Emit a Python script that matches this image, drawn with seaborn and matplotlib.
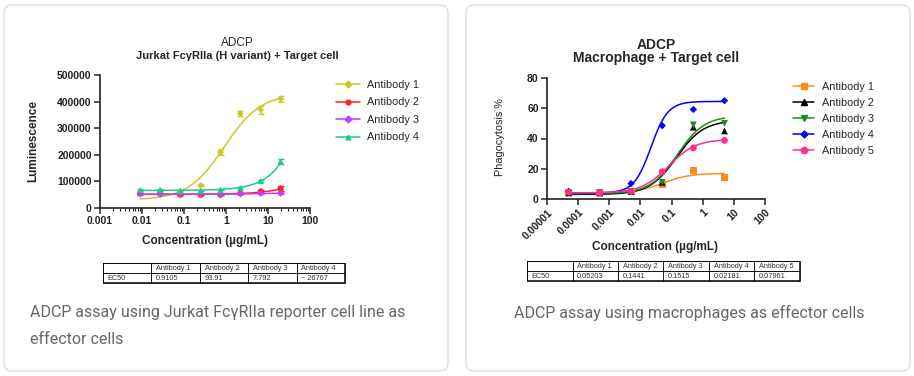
import numpy as np
import pandas as pd
import seaborn as sns
import matplotlib.pyplot as plt
from matplotlib.patches import FancyBboxPatch, Rectangle
from matplotlib.lines import Line2D
from matplotlib.ticker import LogLocator, NullFormatter

# ---- left panel: Jurkat FcgRIIa reporter ----
jurkat_names = ["Antibody 1", "Antibody 2", "Antibody 3", "Antibody 4"]
jurkat_conc = [0.0091, 0.027, 0.082, 0.25, 0.74, 2.2, 6.7, 20]
jurkat_lum = {
    "Antibody 1": [55000, 50000, 60000, 85000, 210000, 355000, 370000, 410000],
    "Antibody 2": [55000, 55000, 50000, 50000, 50000, 55000, 62000, 73000],
    "Antibody 3": [52000, 52000, 52000, 52000, 52000, 53000, 55000, 55000],
    "Antibody 4": [68000, 68000, 65000, 65000, 68000, 75000, 102000, 175000],
}
jurkat_err = {
    "Antibody 1": [3000, 2000, 3000, 4000, 12000, 8000, 15000, 12000],
    "Antibody 2": [2000, 2000, 2000, 2000, 2000, 2000, 4000, 8000],
    "Antibody 3": [2000, 2000, 2000, 2000, 2000, 2000, 3000, 4000],
    "Antibody 4": [3000, 3000, 2000, 2000, 2000, 3000, 4000, 10000],
}
# 4PL fit: bottom, top, EC50, hill
jurkat_fit = {
    "Antibody 1": [30000, 430000, 0.9105, 1.0],
    "Antibody 2": [52000, 166000, 93.91, 1.0],
    "Antibody 3": [51000, 58000, 7.792, 1.0],
    "Antibody 4": [66000, 1.4e8, 26767, 1.0],
}
jurkat_colors = ["#c9c92a", "#ff2020", "#c040ff", "#20c890"]
jurkat_markers = ["D", "o", "D", "^"]
jurkat_sizes = [12, 20, 12, 20]
jurkat_ec50 = ["0.9105", "93.91", "7.792", "~ 26767"]

# ---- right panel: macrophage ----
macro_names = ["Antibody 1", "Antibody 2", "Antibody 3", "Antibody 4", "Antibody 5"]
macro_conc = [0.00005, 0.0005, 0.005, 0.05, 0.5, 5]
macro_phago = {
    "Antibody 1": [4.5, 4.5, 5.0, 9.5, 19.0, 14.0],
    "Antibody 2": [4.0, 4.0, 5.0, 11.0, 47.5, 45.0],
    "Antibody 3": [4.0, 4.0, 5.0, 11.0, 49.0, 50.0],
    "Antibody 4": [5.0, 4.0, 10.2, 48.5, 59.2, 65.0],
    "Antibody 5": [4.5, 4.0, 5.0, 18.0, 33.8, 38.7],
}
macro_fit = {
    "Antibody 1": [4.0, 17.0, 0.05203, 1.0],
    "Antibody 2": [3.0, 52.0, 0.1441, 1.0],
    "Antibody 3": [3.5, 55.0, 0.1515, 1.0],
    "Antibody 4": [4.0, 64.5, 0.02181, 1.6],
    "Antibody 5": [4.0, 39.5, 0.07961, 1.0],
}
macro_colors = ["#ff8c1a", "#000000", "#1e8c1e", "#0000ff", "#ff2d8c"]
macro_markers = ["s", "^", "v", "D", "o"]
macro_sizes = [26, 24, 24, 14, 24]
macro_ec50 = ["0.05203", "0.1441", "0.1515", "0.02181", "0.07961"]


def fourpl(x, p):
    b, t, ec, h = p
    return b + (t - b) / (1 + (ec / x) ** h)


sns.set_style("ticks")
plt.rcParams["font.family"] = ["Liberation Sans", "DejaVu Sans"]

W, H = 914, 376
fig = plt.figure(figsize=(W / 100, H / 100), dpi=100)


def fx(px):
    return px / W


def fy(py):
    return 1 - py / H


# cards
for x0, x1 in [(4, 448), (466, 910)]:
    fig.patches.append(FancyBboxPatch((x0, 5), x1 - x0, 366, boxstyle="round,pad=0,rounding_size=8",
                                      transform=None, fc="white", ec="#dedede", lw=1, zorder=-5))


def style_axis(ax):
    ax.set_facecolor("none")
    for s in ["top", "right"]:
        ax.spines[s].set_visible(False)
    for s in ["left", "bottom"]:
        ax.spines[s].set_linewidth(1.2)
        ax.spines[s].set_color("#222222")
    ax.tick_params(which="major", length=4, width=1.1, labelsize=7.5, pad=2)
    ax.tick_params(which="minor", length=2.2, width=0.8)
    for lab in ax.get_xticklabels() + ax.get_yticklabels():
        lab.set_fontweight("bold")
        lab.set_color("#222222")


def draw_table(rect, names, values):
    tax = fig.add_axes(rect)
    tax.axis("off")
    cells = [[""] + names, ["EC50"] + values]
    n = len(names)
    widths = [1.0 / (n + 1)] * (n + 1)
    tb = tax.table(cellText=cells, cellLoc="left", bbox=[0, 0, 1, 1], colWidths=widths)
    tb.auto_set_font_size(False)
    tb.set_fontsize(5.3)
    for (r, c), cell in tb.get_celld().items():
        cell.set_linewidth(0.6)
        cell.get_text().set_color("#333333")
        if c == 0:
            cell._loc = "right"
    tax.add_patch(Rectangle((0, 0), 1, 1, transform=tax.transAxes, fill=False, lw=1.1, ec="black"))


# ---------- left chart ----------
ax1 = fig.add_axes([fx(100), fy(208), fx(210), 133 / H])
xs = np.logspace(np.log10(0.009), np.log10(20), 200)
rows = []
for name in jurkat_names:
    for x in xs:
        rows.append({"conc": x, "val": fourpl(x, jurkat_fit[name]), "ab": name})
curve1 = pd.DataFrame(rows)
pts1 = pd.DataFrame([{"conc": c, "val": v, "ab": n}
                     for n in jurkat_names for c, v in zip(jurkat_conc, jurkat_lum[n])])
pal1 = dict(zip(jurkat_names, jurkat_colors))
sns.lineplot(data=curve1, x="conc", y="val", hue="ab", palette=pal1, lw=1.1, legend=False, ax=ax1)
for n, c, m in zip(jurkat_names, jurkat_colors, jurkat_markers):
    ax1.errorbar(jurkat_conc, jurkat_lum[n], yerr=jurkat_err[n], fmt="none", ecolor=c,
                 elinewidth=0.9, capsize=2)
sns.scatterplot(data=pts1, x="conc", y="val", hue="ab", style="ab", size="ab", palette=pal1,
                markers=dict(zip(jurkat_names, jurkat_markers)),
                sizes=dict(zip(jurkat_names, jurkat_sizes)), edgecolor="none",
                legend=False, ax=ax1, zorder=5)
ax1.set_xscale("log")
ax1.set_xlim(0.001, 100)
ax1.set_ylim(0, 500000)
ax1.set_xticks([0.001, 0.01, 0.1, 1, 10, 100])
ax1.set_xticklabels(["0.001", "0.01", "0.1", "1", "10", "100"])
ax1.xaxis.set_minor_locator(LogLocator(base=10, subs=np.arange(2, 10)))
ax1.xaxis.set_minor_formatter(NullFormatter())
ax1.set_yticks([0, 100000, 200000, 300000, 400000, 500000])
ax1.set_yticklabels(["0", "100000", "200000", "300000", "400000", "500000"])
ax1.set_xlabel("")
ax1.set_ylabel("")
style_axis(ax1)

fig.text(fx(237), fy(43), "ADCP", ha="center", va="center", fontsize=8.5)
fig.text(fx(237), fy(56), "Jurkat FcγRIIa (H variant) + Target cell", ha="center", va="center",
         fontsize=8, fontweight="bold")
fig.text(fx(33), fy(141), "Luminescence", rotation=90, ha="center", va="center",
         fontsize=8.5, fontweight="bold")
fig.text(fx(205), fy(241), "Concentration (µg/mL)", ha="center", va="center",
         fontsize=8.5, fontweight="bold")

h1 = [Line2D([], [], color=c, marker=m, ms=3.5, lw=1.1) for c, m in zip(jurkat_colors, jurkat_markers)]
fig.legend(h1, jurkat_names, loc="upper left", bbox_to_anchor=(fx(326), fy(70)), frameon=False,
           fontsize=7.8, handlelength=2.2, labelspacing=0.7, handletextpad=0.7)

draw_table([fx(103), fy(283), fx(242), 20 / H], jurkat_names, jurkat_ec50)

# ---------- right chart ----------
ax2 = fig.add_axes([fx(547), fy(199), fx(218), 121 / H])
xs2 = np.logspace(np.log10(0.00005), np.log10(5), 200)
rows = []
for name in macro_names:
    for x in xs2:
        rows.append({"conc": x, "val": fourpl(x, macro_fit[name]), "ab": name})
curve2 = pd.DataFrame(rows)
pts2 = pd.DataFrame([{"conc": c, "val": v, "ab": n}
                     for n in macro_names for c, v in zip(macro_conc, macro_phago[n])])
pal2 = dict(zip(macro_names, macro_colors))
sns.lineplot(data=curve2, x="conc", y="val", hue="ab", palette=pal2, lw=1.1, legend=False, ax=ax2)
sns.scatterplot(data=pts2, x="conc", y="val", hue="ab", style="ab", size="ab", palette=pal2,
                markers=dict(zip(macro_names, macro_markers)),
                sizes=dict(zip(macro_names, macro_sizes)), edgecolor="none",
                legend=False, ax=ax2, zorder=5)
ax2.set_xscale("log")
ax2.set_xlim(0.00001, 100)
ax2.set_ylim(0, 80)
ax2.set_xticks([0.00001, 0.0001, 0.001, 0.01, 0.1, 1, 10, 100])
ax2.set_xticklabels(["0.00001", "0.0001", "0.001", "0.01", "0.1", "1", "10", "100"],
                    rotation=45, ha="right", rotation_mode="anchor")
ax2.xaxis.set_minor_locator(LogLocator(base=10, subs=np.arange(2, 10)))
ax2.xaxis.set_minor_formatter(NullFormatter())
ax2.set_yticks([0, 20, 40, 60, 80])
ax2.set_xlabel("")
ax2.set_ylabel("")
style_axis(ax2)

fig.text(fx(656), fy(45), "ADCP", ha="center", va="center", fontsize=10, fontweight="bold")
fig.text(fx(656), fy(58), "Macrophage + Target cell", ha="center", va="center",
         fontsize=10, fontweight="bold")
fig.text(fx(500), fy(137), "Phagocytosis %", rotation=90, ha="center", va="center", fontsize=7.8)
fig.text(fx(655), fy(247), "Concentration (µg/mL)", ha="center", va="center",
         fontsize=8.5, fontweight="bold")

h2 = [Line2D([], [], color=c, marker=m, ms=4.5 if m != "D" else 3.5, lw=1.1)
      for c, m in zip(macro_colors, macro_markers)]
fig.legend(h2, macro_names, loc="upper left", bbox_to_anchor=(fx(783), fy(72)), frameon=False,
           fontsize=7.8, handlelength=2.0, labelspacing=0.55, handletextpad=0.7)

draw_table([fx(527), fy(281), fx(273), 20 / H], macro_names, macro_ec50)

# captions
cap = dict(fontsize=11.5, color="#666666", family=["Roboto", "DejaVu Sans"], va="center")
fig.text(fx(30), fy(313), "ADCP assay using Jurkat FcγRIIa reporter cell line as", ha="left", **cap)
fig.text(fx(30), fy(339), "effector cells", ha="left", **cap)
fig.text(fx(689), fy(313), "ADCP assay using macrophages as effector cells", ha="center", **cap)

fig.savefig("out.png", dpi=100, facecolor="white")
